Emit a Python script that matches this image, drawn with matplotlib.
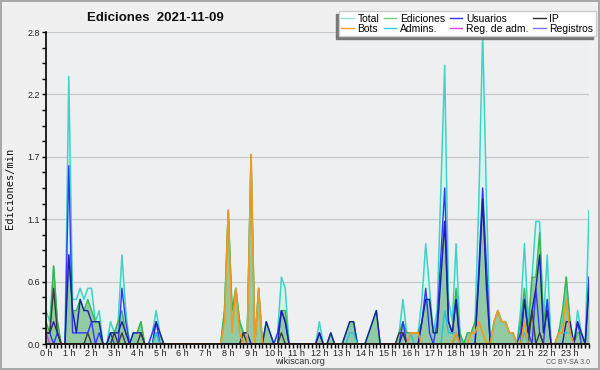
import numpy as np
import matplotlib
matplotlib.use("Agg")
import matplotlib.pyplot as plt
from matplotlib.lines import Line2D
from matplotlib.ticker import FixedLocator, MultipleLocator

# 10-minute bins (144 per day), values in edits per minute; one row per hour
total = [
    0.3, 0.2, 0.7, 0.2, 0.0, 0.0,
    2.4, 0.4, 0.4, 0.5, 0.4, 0.5,
    0.5, 0.2, 0.3, 0.0, 0.0, 0.2,
    0.1, 0.2, 0.8, 0.3, 0.0, 0.1,
    0.1, 0.2, 0.0, 0.0, 0.1, 0.3,
    0.1, 0.0, 0.0, 0.0, 0.0, 0.0,
    0.0, 0.0, 0.0, 0.0, 0.0, 0.0,
    0.0, 0.0, 0.0, 0.0, 0.0, 0.3,
    1.2, 0.3, 0.5, 0.2, 0.1, 0.1,
    1.7, 0.0, 0.5, 0.0, 0.2, 0.1,
    0.0, 0.1, 0.6, 0.5, 0.0, 0.0,
    0.0, 0.0, 0.0, 0.0, 0.0, 0.0,
    0.2, 0.0, 0.0, 0.1, 0.0, 0.0,
    0.0, 0.1, 0.2, 0.2, 0.0, 0.0,
    0.0, 0.1, 0.2, 0.3, 0.0, 0.0,
    0.0, 0.0, 0.0, 0.1, 0.4, 0.1,
    0.1, 0.1, 0.1, 0.4, 0.9, 0.5,
    0.1, 0.3, 1.4, 2.5, 0.4, 0.2,
    0.9, 0.1, 0.0, 0.1, 0.1, 0.2,
    1.3, 2.8, 1.3, 0.0, 0.2, 0.3,
    0.2, 0.2, 0.1, 0.1, 0.0, 0.3,
    0.9, 0.2, 0.6, 1.1, 1.1, 0.2,
    0.8, 0.0, 0.0, 0.1, 0.2, 0.6,
    0.2, 0.0, 0.3, 0.1, 0.0, 1.2,
]
ediciones = [
    0.2, 0.1, 0.7, 0.2, 0.0, 0.0,
    0.8, 0.3, 0.3, 0.4, 0.3, 0.4,
    0.3, 0.2, 0.2, 0.0, 0.0, 0.1,
    0.1, 0.2, 0.3, 0.1, 0.0, 0.1,
    0.1, 0.2, 0.0, 0.0, 0.0, 0.1,
    0.1, 0.0, 0.0, 0.0, 0.0, 0.0,
    0.0, 0.0, 0.0, 0.0, 0.0, 0.0,
    0.0, 0.0, 0.0, 0.0, 0.0, 0.3,
    1.2, 0.3, 0.5, 0.2, 0.1, 0.1,
    1.7, 0.0, 0.5, 0.0, 0.2, 0.1,
    0.0, 0.0, 0.3, 0.3, 0.0, 0.0,
    0.0, 0.0, 0.0, 0.0, 0.0, 0.0,
    0.1, 0.0, 0.0, 0.1, 0.0, 0.0,
    0.0, 0.1, 0.2, 0.2, 0.0, 0.0,
    0.0, 0.1, 0.2, 0.3, 0.0, 0.0,
    0.0, 0.0, 0.0, 0.1, 0.2, 0.1,
    0.1, 0.1, 0.1, 0.2, 0.4, 0.4,
    0.1, 0.1, 0.6, 1.1, 0.2, 0.1,
    0.5, 0.1, 0.0, 0.1, 0.1, 0.2,
    0.6, 1.3, 0.6, 0.0, 0.2, 0.3,
    0.2, 0.2, 0.1, 0.1, 0.0, 0.2,
    0.5, 0.1, 0.6, 0.6, 1.0, 0.2,
    0.4, 0.0, 0.0, 0.1, 0.3, 0.6,
    0.2, 0.0, 0.1, 0.1, 0.0, 0.6,
]
usuarios = [
    0.1, 0.1, 0.2, 0.1, 0.0, 0.0,
    0.8, 0.3, 0.1, 0.4, 0.3, 0.3,
    0.2, 0.2, 0.2, 0.0, 0.0, 0.1,
    0.1, 0.1, 0.2, 0.1, 0.0, 0.1,
    0.1, 0.1, 0.0, 0.0, 0.0, 0.2,
    0.1, 0.0, 0.0, 0.0, 0.0, 0.0,
    0.0, 0.0, 0.0, 0.0, 0.0, 0.0,
    0.0, 0.0, 0.0, 0.0, 0.0, 0.0,
    0.0, 0.0, 0.0, 0.0, 0.1, 0.1,
    0.0, 0.0, 0.0, 0.0, 0.2, 0.1,
    0.0, 0.0, 0.3, 0.2, 0.0, 0.0,
    0.0, 0.0, 0.0, 0.0, 0.0, 0.0,
    0.1, 0.0, 0.0, 0.1, 0.0, 0.0,
    0.0, 0.1, 0.2, 0.2, 0.0, 0.0,
    0.0, 0.1, 0.2, 0.3, 0.0, 0.0,
    0.0, 0.0, 0.0, 0.0, 0.1, 0.0,
    0.0, 0.0, 0.0, 0.2, 0.4, 0.4,
    0.1, 0.1, 0.6, 1.1, 0.2, 0.1,
    0.4, 0.0, 0.0, 0.0, 0.0, 0.0,
    0.6, 1.3, 0.5, 0.0, 0.0, 0.0,
    0.0, 0.0, 0.0, 0.0, 0.0, 0.0,
    0.4, 0.1, 0.3, 0.5, 0.8, 0.1,
    0.3, 0.0, 0.0, 0.0, 0.0, 0.2,
    0.2, 0.0, 0.2, 0.1, 0.0, 0.5,
]
ip = [
    0.1, 0.1, 0.5, 0.1, 0.0, 0.0,
    0.0, 0.0, 0.0, 0.0, 0.0, 0.1,
    0.0, 0.0, 0.0, 0.0, 0.0, 0.0,
    0.1, 0.0, 0.1, 0.0, 0.0, 0.0,
    0.0, 0.1, 0.0, 0.0, 0.0, 0.0,
    0.0, 0.0, 0.0, 0.0, 0.0, 0.0,
    0.0, 0.0, 0.0, 0.0, 0.0, 0.0,
    0.0, 0.0, 0.0, 0.0, 0.0, 0.0,
    0.0, 0.0, 0.0, 0.0, 0.1, 0.0,
    0.0, 0.0, 0.0, 0.0, 0.0, 0.0,
    0.0, 0.0, 0.1, 0.0, 0.0, 0.0,
    0.0, 0.0, 0.0, 0.0, 0.0, 0.0,
    0.0, 0.0, 0.0, 0.0, 0.0, 0.0,
    0.0, 0.0, 0.0, 0.0, 0.0, 0.0,
    0.0, 0.0, 0.0, 0.0, 0.0, 0.0,
    0.0, 0.0, 0.0, 0.1, 0.1, 0.0,
    0.0, 0.0, 0.0, 0.0, 0.0, 0.0,
    0.0, 0.0, 0.0, 0.0, 0.0, 0.0,
    0.1, 0.0, 0.0, 0.0, 0.0, 0.0,
    0.0, 0.0, 0.0, 0.0, 0.0, 0.0,
    0.0, 0.0, 0.0, 0.0, 0.0, 0.0,
    0.0, 0.0, 0.3, 0.0, 0.1, 0.0,
    0.0, 0.0, 0.0, 0.0, 0.0, 0.0,
    0.0, 0.0, 0.0, 0.0, 0.0, 0.0,
]
bots = [0.0] * 47 + [0.2,
    1.2, 0.1, 0.5, 0.1, 0.0, 0.0,
    1.7, 0.0, 0.5, 0.0, 0.0, 0.0,
] + [0.0] * 36 + [
    0.1, 0.1, 0.1, 0.0, 0.0, 0.0,
    0.0, 0.0, 0.0, 0.0, 0.0, 0.0,
    0.1, 0.0, 0.0, 0.0, 0.1, 0.1,
    0.2, 0.1, 0.0, 0.0, 0.2, 0.3,
    0.2, 0.2, 0.1, 0.1, 0.0, 0.0,
    0.2, 0.0, 0.0, 0.0, 0.0, 0.0,
    0.0, 0.0, 0.0, 0.1, 0.1, 0.4,
    0.1, 0.0, 0.0, 0.0, 0.0, 0.0,
]
admins = [0.0] * 29 + [0.1] + [0.0] * 50 + [0.1, 0.1] + [0.0] * 14 + [
    0.1, 0.0, 0.0, 0.0, 0.0, 0.0,
    0.0, 0.0, 0.0, 0.3, 0.1, 0.1,
    0.1, 0.0, 0.0, 0.0, 0.0, 0.0,
    0.0, 0.0, 0.0, 0.0, 0.0, 0.0,
    0.0, 0.0, 0.0, 0.0, 0.0, 0.0,
    0.1, 0.0, 0.0, 0.0, 0.0, 0.0,
    0.0, 0.0, 0.0, 0.1, 0.1, 0.1,
    0.1, 0.0, 0.0, 0.0, 0.0, 0.0,
]
reg_adm = [0.1] + [0.0] * 143
registros = [
    0.1, 0.1, 0.0, 0.1, 0.0, 0.0,
    1.6, 0.1, 0.1, 0.1, 0.1, 0.1,
    0.2, 0.0, 0.1, 0.0, 0.0, 0.1,
    0.0, 0.0, 0.5, 0.2, 0.0, 0.0,
    0.0, 0.0, 0.0, 0.0, 0.1, 0.2,
    0.0, 0.0, 0.0, 0.0, 0.0, 0.0,
    0.0, 0.0, 0.0, 0.0, 0.0, 0.0,
    0.0, 0.0, 0.0, 0.0, 0.0, 0.0,
    0.0, 0.0, 0.0, 0.0, 0.0, 0.0,
    0.0, 0.0, 0.0, 0.0, 0.0, 0.0,
    0.0, 0.1, 0.3, 0.2, 0.0, 0.0,
    0.0, 0.0, 0.0, 0.0, 0.0, 0.0,
    0.1, 0.0, 0.0, 0.0, 0.0, 0.0,
    0.0, 0.0, 0.0, 0.0, 0.0, 0.0,
    0.0, 0.0, 0.0, 0.0, 0.0, 0.0,
    0.0, 0.0, 0.0, 0.0, 0.2, 0.0,
    0.0, 0.0, 0.0, 0.2, 0.5, 0.1,
    0.0, 0.2, 0.8, 1.4, 0.2, 0.1,
    0.4, 0.0, 0.0, 0.0, 0.0, 0.0,
    0.7, 1.4, 0.7, 0.0, 0.0, 0.0,
    0.0, 0.0, 0.0, 0.0, 0.0, 0.1,
    0.4, 0.1, 0.0, 0.5, 0.1, 0.0,
    0.4, 0.0, 0.0, 0.0, 0.0, 0.0,
    0.0, 0.0, 0.2, 0.0, 0.0, 0.6,
]

hour_labels = [f"{h} h" for h in range(24)]
y_ticks = [0.0, 0.56, 1.12, 1.68, 2.24, 2.8]
y_labels = ["0.0", "0.6", "1.1", "1.7", "2.2", "2.8"]
legend_labels = ["Total", "Ediciones", "Usuarios", "IP",
                 "Bots", "Admins.", "Reg. de adm.", "Registros"]

plt.rcParams['font.family'] = ['Liberation Sans', 'DejaVu Sans']

W, H = 600, 370
fig = plt.figure(figsize=(6, 3.7), dpi=100, facecolor='#f0f0f0')
fig.patch.set_edgecolor('#a8a8a8')
fig.patch.set_linewidth(1.5)
ax = fig.add_axes([46 / W, 1 - 344 / H, (589 - 46) / W, (344 - 32) / H])
ax.set_facecolor('#eeeff0')

x = np.arange(len(total))
ax.fill_between(x, total, color='#d6f3ee', lw=0, zorder=1)
ax.fill_between(x, ediciones, color='#86c596', alpha=0.85, lw=0, zorder=2)
ax.plot(x, total, color='#3fd3c6', lw=1.1, zorder=3)
ax.plot(x, ediciones, color='#3cb44a', lw=1.0, zorder=4)
ax.plot(x, registros, color='#3535ff', lw=1.0, zorder=5)
ax.plot(x, usuarios, color='#1e1eaa', lw=1.0, zorder=6)
ax.plot(x, ip, color='#3a3a3a', lw=1.0, zorder=7)
ax.plot(x, admins, color='#22c4e4', lw=1.0, zorder=8)
ax.plot(x, reg_adm, color='#e040e0', lw=1.0, zorder=8)
ax.plot(x, bots, color='#f39a1e', lw=1.2, zorder=9)

ax.set_xlim(0, len(total) - 1)
ax.set_ylim(0, 2.8)
ax.xaxis.set_major_locator(FixedLocator(np.arange(24) * 6))
ax.set_xticklabels(hour_labels)
ax.xaxis.set_minor_locator(MultipleLocator(1))
ax.yaxis.set_major_locator(FixedLocator(y_ticks))
ax.set_yticklabels(y_labels)
ax.yaxis.set_minor_locator(MultipleLocator(0.14))
ax.tick_params(axis='x', which='both', length=3, width=1, direction='out',
               labelsize=6.5, pad=0.5)
ax.tick_params(axis='y', which='both', length=3, width=1, direction='out',
               labelsize=6.5, pad=1.5)
ax.tick_params(axis='both', labelcolor='#222222')
ax.grid(axis='y', which='major', color='#c9c9c9', lw=0.9, zorder=0)
ax.set_axisbelow(True)
for s in ['top', 'right']:
    ax.spines[s].set_visible(False)
for s in ['left', 'bottom']:
    ax.spines[s].set_linewidth(1.2)
    ax.spines[s].set_zorder(10)

legend_colors = ['#8ce6e0', '#74cf74', '#3535e6', '#2e2e2e',
                 '#ffa030', '#2ed0e2', '#e040e0', '#7878ff']
handles = [Line2D([], [], color=c, lw=1.0) for c in legend_colors]
order = [0, 4, 1, 5, 2, 6, 3, 7]
leg = fig.legend([handles[i] for i in order], [legend_labels[i] for i in order],
                 ncol=4, loc='upper right', bbox_to_anchor=(598 / W, 1 - 9 / H),
                 bbox_transform=fig.transFigure, fontsize=7.5,
                 handlelength=1.2, handletextpad=0.35, columnspacing=0.45,
                 labelspacing=0.0, borderpad=0.25, borderaxespad=0.2,
                 fancybox=False, framealpha=1, edgecolor='#cccccc',
                 shadow={'ox': -2, 'oy': -2, 'color': '#777777', 'alpha': 1})

fig.text(155 / W, 1 - 18 / H, 'Ediciones  2021-11-09', ha='center', va='center',
         fontsize=9.5, fontweight='bold', color='#111111')
fig.text(10 / W, 1 - 188 / H, 'Ediciones/min', rotation=90, ha='center',
         va='center', fontsize=7.5, family='DejaVu Sans Mono', color='#111111')
fig.text(300 / W, 1 - 362 / H, 'wikiscan.org', ha='center', va='center',
         fontsize=6.5, color='#333333')
fig.text(590 / W, 1 - 362 / H, 'CC BY-SA 3.0', ha='right', va='center',
         fontsize=5, color='#555555')

fig.savefig('out.png', dpi=100, facecolor=fig.get_facecolor(),
            edgecolor=fig.patch.get_edgecolor())
